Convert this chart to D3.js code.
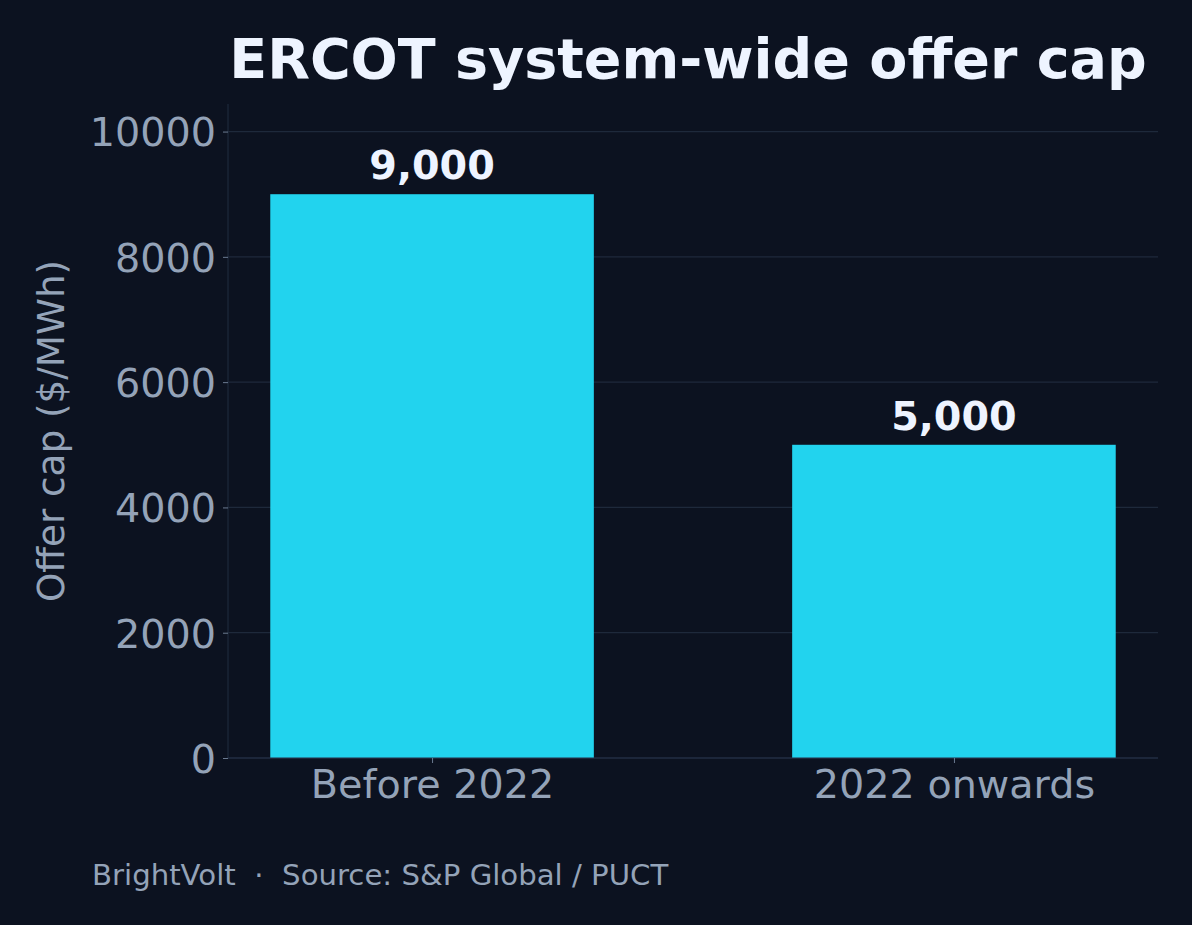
<!DOCTYPE html>
<html>
<head>
<meta charset="utf-8">
<script src="https://cdn.jsdelivr.net/npm/d3@7/dist/d3.min.js"></script>
<style>
  html, body { margin: 0; padding: 0; background: #0c1220; }
  svg { display: block; }
</style>
</head>
<body>
<script>
const categories = ["Before 2022", "2022 onwards"];
const values = [9000, 5000];
const valueLabels = ["9,000", "5,000"];
const yTicks = [0, 2000, 4000, 6000, 8000, 10000];
const titleText = "ERCOT system-wide offer cap";
const yLabelText = "Offer cap ($/MWh)";
const footerText = "BrightVolt  \u00b7  Source: S&P Global / PUCT";

const W = 1192, H = 925;
const margin = { left: 228, right: 1158, top: 104, bottom: 758 };
const bg = "#0c1220", grid = "#1e293b", tickCol = "#94a3b8", barCol = "#22d3ee", titleCol = "#eef4ff";
const font = "'DejaVu Sans', sans-serif";

const svg = d3.select("body").append("svg").attr("width", W).attr("height", H);
svg.append("rect").attr("width", W).attr("height", H).attr("fill", bg);

const x = d3.scaleLinear().domain([-0.391, 1.391]).range([margin.left, margin.right]);
const barW = 0.62;
const y = d3.scaleLinear().domain([0, 10440]).range([margin.bottom, margin.top]);

// grid
svg.append("g").selectAll("line").data(yTicks).join("line")
  .attr("x1", margin.left).attr("x2", margin.right)
  .attr("y1", d => y(d)).attr("y2", d => y(d))
  .attr("stroke", grid).attr("stroke-width", 1.2);

// bars
svg.append("g").selectAll("rect").data(values).join("rect")
  .attr("x", (d, i) => x(i - barW / 2))
  .attr("width", (d, i) => x(i + barW / 2) - x(i - barW / 2))
  .attr("y", d => y(d))
  .attr("height", d => y(0) - y(d))
  .attr("fill", barCol);

// spines
svg.append("line").attr("x1", margin.left).attr("x2", margin.left)
  .attr("y1", margin.top).attr("y2", margin.bottom).attr("stroke", grid).attr("stroke-width", 1.2);
svg.append("line").attr("x1", margin.left).attr("x2", margin.right)
  .attr("y1", margin.bottom).attr("y2", margin.bottom).attr("stroke", "#243049").attr("stroke-width", 1.2);

// y axis
const yAxis = d3.axisLeft(y).tickValues(yTicks).tickSize(5).tickPadding(7).tickFormat(d3.format("d"));
const gy = svg.append("g").attr("transform", `translate(${margin.left},0)`).call(yAxis);
gy.select(".domain").remove();
gy.selectAll(".tick line").attr("stroke", "#6b7a90").attr("stroke-width", 1);
gy.selectAll(".tick text").attr("fill", tickCol).attr("font-family", font).attr("font-size", 39.7)
  .attr("dy", "0.36em");

// x axis
const xAxis = d3.axisBottom(x).tickValues(categories.map((c, i) => i)).tickFormat(i => categories[i]).tickSize(5).tickPadding(7);
const gx = svg.append("g").attr("transform", `translate(0,${margin.bottom})`).call(xAxis);
gx.select(".domain").remove();
gx.selectAll(".tick line").attr("stroke", "#6b7a90").attr("stroke-width", 1);
gx.selectAll(".tick text").attr("fill", tickCol).attr("font-family", font).attr("font-size", 39.7)
  .attr("dy", "0.71em");

// value labels
svg.append("g").selectAll("text").data(values).join("text")
  .attr("x", (d, i) => x(i))
  .attr("y", d => y(d) - 15)
  .attr("text-anchor", "middle")
  .attr("fill", titleCol).attr("font-family", font).attr("font-weight", "bold").attr("font-size", 39.7)
  .text((d, i) => valueLabels[i]);

// title
svg.append("text").attr("x", (margin.left + margin.right) / 2 - 5).attr("y", 78)
  .attr("text-anchor", "middle").attr("fill", titleCol).attr("font-family", font)
  .attr("font-weight", "bold").attr("font-size", 55.5).text(titleText);

// y label
svg.append("text")
  .attr("transform", `translate(64,${(margin.top + margin.bottom) / 2}) rotate(-90)`)
  .attr("text-anchor", "middle").attr("fill", tickCol).attr("font-family", font)
  .attr("font-size", 37.3).text(yLabelText);

// footer
svg.append("text").attr("x", 92).attr("y", 885).attr("fill", tickCol)
  .attr("font-family", font).attr("font-size", 29.2).attr("xml:space", "preserve")
  .style("white-space", "pre").text(footerText);
</script>
</body>
</html>
